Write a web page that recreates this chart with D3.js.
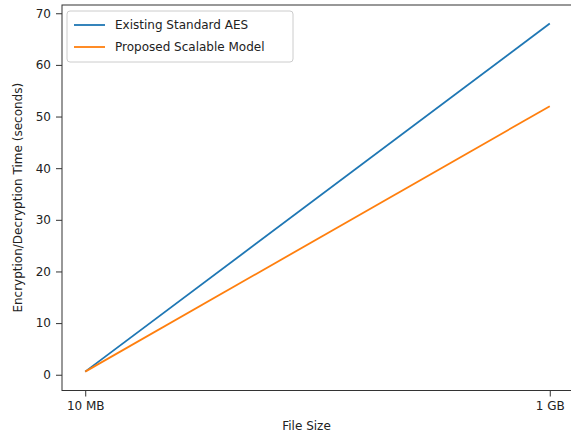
<!DOCTYPE html>
<html>
<head>
<meta charset="utf-8">
<script src="https://cdn.jsdelivr.net/npm/d3@7"></script>
<style>
  body { margin: 0; background: #fff; }
  text { font-family: "DejaVu Sans", sans-serif; }
</style>
</head>
<body>
<div id="chart"></div>
<script>
// Chart Data
var fileSizes = ["10 MB", "1 GB"];
var aesTimes = [0.6, 68];       // Existing Standard AES
var scalableTimes = [0.6, 52];  // Proposed Scalable Model
var yTicks = [0, 10, 20, 30, 40, 50, 60, 70];
var seriesNames = ["Existing Standard AES", "Proposed Scalable Model"];
var seriesColors = ["#1f77b4", "#ff7f0e"];

var W = 571, H = 437;
var plot = { left: 62, right: 573, top: 5, bottom: 390.5 };

var svg = d3.select('#chart').append('svg')
    .attr('width', W)
    .attr('height', H);

// X Is Categorical With Matplotlib Style 5% Margins
var x = d3.scaleLinear()
    .domain([-0.05, 1.05])
    .range([plot.left, plot.right]);

var y = d3.scaleLinear()
    .domain([-3.05, 71.6])
    .range([plot.bottom, plot.top]);

// Axes
var xAxis = d3.axisBottom(x)
    .tickValues([0, 1])
    .tickFormat(function(d) { return fileSizes[d]; })
    .tickSizeInner(6).tickSizeOuter(0).tickPadding(5);
var yAxis = d3.axisLeft(y)
    .tickValues(yTicks)
    .tickSizeInner(6).tickSizeOuter(0).tickPadding(5);

var gx = svg.append('g')
    .attr('transform', 'translate(0,' + plot.bottom + ')')
    .call(xAxis);
var gy = svg.append('g')
    .attr('transform', 'translate(' + plot.left + ',0)')
    .call(yAxis);

[gx, gy].forEach(function(g) {
  g.select('.domain').remove();
  g.selectAll('.tick line').attr('stroke', '#333').attr('stroke-width', 1);
  g.selectAll('.tick text').attr('fill', '#222').style('font-size', '12px');
});

// Spines
svg.append('rect')
    .attr('x', plot.left).attr('y', plot.top)
    .attr('width', plot.right - plot.left)
    .attr('height', plot.bottom - plot.top)
    .attr('fill', 'none')
    .attr('stroke', '#333')
    .attr('stroke-width', 1);

// Lines
var line = d3.line()
    .x(function(d, i) { return x(i); })
    .y(function(d) { return y(d); });

[aesTimes, scalableTimes].forEach(function(vals, i) {
  svg.append('path')
      .datum(vals)
      .attr('d', line)
      .attr('fill', 'none')
      .attr('stroke', seriesColors[i])
      .attr('stroke-width', 1.8);
});

// Axis Labels
svg.append('text')
    .attr('x', (plot.left + 550 + 85) / 2 - 42)
    .attr('y', 430)
    .attr('text-anchor', 'middle')
    .style('font-size', '12px')
    .attr('fill', '#222')
    .text('File Size');

svg.append('text')
    .attr('transform', 'translate(22,' + ((plot.top + plot.bottom) / 2) + ') rotate(-90)')
    .attr('text-anchor', 'middle')
    .style('font-size', '12px')
    .attr('fill', '#222')
    .text('Encryption/Decryption Time (seconds)');

// Legend
var legend = svg.append('g').attr('transform', 'translate(67,11)');
legend.append('rect')
    .attr('width', 226).attr('height', 51)
    .attr('rx', 3)
    .attr('fill', '#fff')
    .attr('fill-opacity', 0.8)
    .attr('stroke', '#ccc');

seriesNames.forEach(function(name, i) {
  var row = legend.append('g').attr('transform', 'translate(0,' + (14 + i * 22) + ')');
  row.append('line')
      .attr('x1', 7).attr('x2', 38)
      .attr('stroke', seriesColors[i])
      .attr('stroke-width', 1.8);
  row.append('text')
      .attr('x', 48).attr('dy', '0.35em')
      .style('font-size', '12px')
      .attr('fill', '#222')
      .text(name);
});
</script>
</body>
</html>
